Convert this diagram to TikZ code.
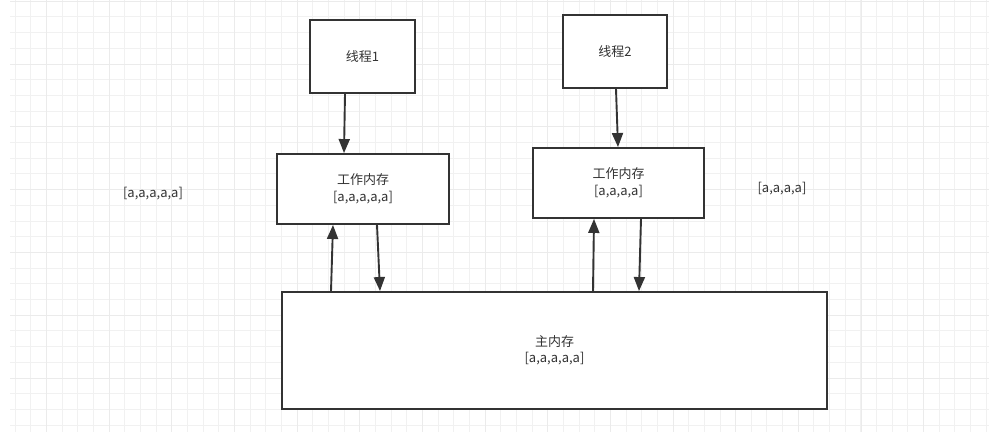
\documentclass[tikz,border=0pt]{standalone}
\usepackage{fontspec}
\setmainfont{Noto Sans CJK SC}
\usetikzlibrary{arrows.meta}
\definecolor{ink}{HTML}{333333}
\definecolor{gridminor}{HTML}{F1F1F1}
\definecolor{gridmajor}{HTML}{EBEBEB}

\begin{document}
\begin{tikzpicture}[x=1pt,y=-1pt,
  box/.style={draw=ink,line width=1.9pt,fill=white,inner sep=0pt,align=center,text=ink,font=\fontsize{13}{16.5}\selectfont},
  link/.style={draw=ink,line width=1.9pt,-{Triangle[length=14pt,width=11pt]}},
  note/.style={inner sep=0pt,text=ink,font=\fontsize{13}{16.5}\selectfont}]
\path[use as bounding box] (0,0) rectangle (989.0,432.0);
% background grid
\foreach \i in {0,...,62}
  \draw[gridminor,line width=1pt] ({15.3+\i*15.66},0) -- ({15.3+\i*15.66},432);
\foreach \j in {0,...,27}
  \draw[gridminor,line width=1pt] (10,{1.2+\j*15.7}) -- (989,{1.2+\j*15.7});
\foreach \i in {0,...,14}
  \draw[gridmajor,line width=1pt] ({46.7+\i*62.64},0) -- ({46.7+\i*62.64},432);
\foreach \j in {0,...,6}
  \draw[gridmajor,line width=1pt] (10,{1.2+\j*62.8}) -- (989,{1.2+\j*62.8});
% boxes
\node[box,minimum width=105pt,minimum height=73pt] (thread1) at (362.5,56.5) {线程1};
\node[box,minimum width=104pt,minimum height=73pt] (thread2) at (615,51.5) {线程2};
\node[box,minimum width=172pt,minimum height=70pt] (work1) at (363,189) {工作内存\\{}[a,a,a,a,a]};
\node[box,minimum width=171pt,minimum height=70pt] (work2) at (618.5,183) {工作内存\\{}[a,a,a,a]};
\node[box,minimum width=545pt,minimum height=117pt] (mainmem) at (554.5,350.5) {主内存\\{}[a,a,a,a,a]};
\node[note] (left) at (153,194) {[a,a,a,a,a]};
\node[note] (right) at (782,189) {[a,a,a,a]};
% connectors
\draw[link] ([xshift=-17.5pt]thread1.south) -- ([xshift=-19pt]work1.north);
\draw[link] ([xshift=1pt]thread2.south) -- ([xshift=-0.5pt]work2.north);
\draw[link] ([xshift=-223.5pt]mainmem.north) -- ([xshift=-30pt]work1.south);
\draw[link] ([xshift=14pt]work1.south) -- ([xshift=-174.5pt]mainmem.north);
\draw[link] ([xshift=38.5pt]mainmem.north) -- ([xshift=-24.5pt]work2.south);
\draw[link] ([xshift=22.5pt]work2.south) -- ([xshift=84.5pt]mainmem.north);
\end{tikzpicture}
\end{document}
